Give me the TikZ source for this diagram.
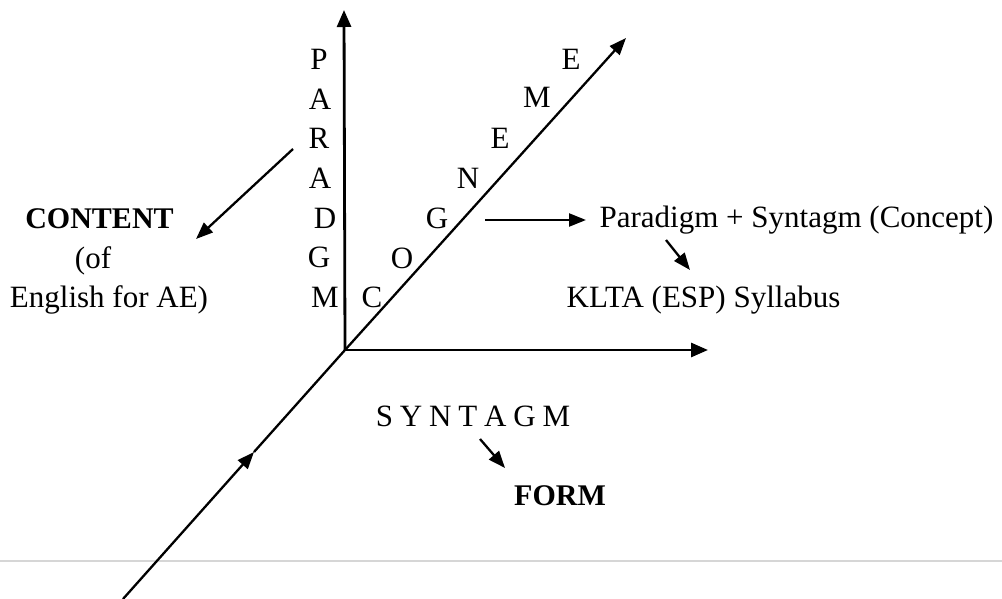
\documentclass[tikz,border=0pt]{standalone}
\usepackage{fontspec}
\setmainfont{Liberation Serif}
\usetikzlibrary{arrows.meta}
\begin{document}
\begin{tikzpicture}[x=1pt,y=-1pt,
  txt/.style={font=\fontsize{31}{37}\selectfont, inner sep=0pt, anchor=base},
  btxt/.style={txt, font=\fontsize{30}{36}\selectfont\bfseries},
  axis/.style={line width=2.8pt, -{Triangle[length=17pt,width=14pt]}},
  diag/.style={line width=2.3pt},
  pointer/.style={line width=2.3pt, -{Triangle[length=17pt,width=13pt]}}]
\useasboundingbox (0,0) rectangle (1002,599);
% grey rule
\coordinate (gl) at (0,561);
\coordinate (gr) at (1002,561);
\draw[line width=1.5pt, black!16] (gl) -- (gr);
% axes
\coordinate (O) at (345,350);
\coordinate (vtop) at (344,10);
\coordinate (htip) at (708,350);
\coordinate (dbot) at (123,599);
\coordinate (dmid) at (254,452);
\coordinate (dtip) at (626,38);
\draw[axis] (O) -- (vtop);
\draw[axis] (O) -- (htip);
\draw[diag, -{Triangle[length=17pt,width=13pt]}] (dbot) -- (dmid);
\draw[diag] (dmid) -- (O);
\draw[diag, -{Triangle[length=17pt,width=13pt]}] (O) -- (dtip);
% PARADIGM
\node[txt] (p1) at (319,70) {P};
\node[txt] (p2) at (320,109.5) {A};
\node[txt] (p3) at (319,149) {R};
\node[txt] (p4) at (320,188.5) {A};
\node[txt] (p5) at (325,228) {D};
\node[txt] (p6) at (319,267.5) {G};
\node[txt] (p7) at (325,307) {M};
% COGNEME
\node[txt] (c1) at (372,307) {C};
\node[txt] (c2) at (402,268) {O};
\node[txt] (c3) at (437,228) {G};
\node[txt] (c4) at (468,189) {N};
\node[txt] (c5) at (500,149) {E};
\node[txt] (c6) at (537,108) {M};
\node[txt] (c7) at (571,70) {E};
% left texts
\node[btxt] (content) at (99.5,228) {CONTENT};
\node[txt] (of) at (93,268) {(of};
\node[txt] (eng) at (109,307) {English for AE)};
% right texts
\node[txt] (concept) at (796.5,227) {Paradigm + Syntagm (Concept)};
\node[txt] (klta) at (703.5,307) {KLTA (ESP) Syllabus};
\node[txt] (syn) at (473,426) {S\hspace{0.22em}Y\hspace{0.22em}N\hspace{0.22em}T\hspace{0.22em}A\hspace{0.22em}G\hspace{0.22em}M};
\node[btxt] (form) at (560,505) {FORM};
% pointers
\coordinate (a1s) at (293,149);
\coordinate (a1e) at (196,239);
\draw[pointer] (a1s) -- (a1e);
\coordinate (a2s) at (485,220);
\coordinate (a2e) at (586,220);
\draw[pointer] (a2s) -- (a2e);
\coordinate (a3s) at (666,240);
\coordinate (a3e) at (690,270);
\draw[pointer] (a3s) -- (a3e);
\coordinate (a4s) at (480,439);
\coordinate (a4e) at (505,468);
\draw[pointer] (a4s) -- (a4e);
\end{tikzpicture}
\end{document}
